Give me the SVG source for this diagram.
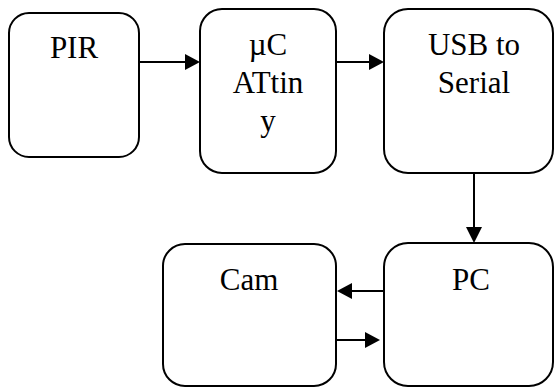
<svg xmlns="http://www.w3.org/2000/svg" width="554" height="387" viewBox="0 0 554 387">
<style>
.box{fill:#fff;stroke:#000;stroke-width:2}
.lbl{font-family:"Liberation Serif","Times New Roman",serif;font-size:31px;fill:#000;text-anchor:middle}
.con{stroke:#000;stroke-width:2;fill:none}
.head{fill:#000}
</style>
<g id="pir"><rect class="box" x="9" y="13" width="130" height="144" rx="20"/><text class="lbl" x="74" y="58">PIR</text></g>
<g id="uc"><rect class="box" x="200" y="9" width="136" height="164" rx="22"/><text class="lbl" x="268" y="55">µC</text><text class="lbl" x="268" y="93">ATtin</text><text class="lbl" x="268" y="131">y</text></g>
<g id="usb"><rect class="box" x="384" y="9" width="169" height="164" rx="24"/><text class="lbl" x="474" y="55">USB to</text><text class="lbl" x="474" y="93">Serial</text></g>
<g id="cam"><rect class="box" x="163" y="244" width="173" height="142" rx="22"/><text class="lbl" x="249" y="290">Cam</text></g>
<g id="pc"><rect class="box" x="384" y="243" width="169" height="143" rx="24"/><text class="lbl" x="471" y="290">PC</text></g>
<g id="connectors">
<line class="con" x1="139" y1="62" x2="186" y2="62"/><polygon class="head" points="200,62 185,54 185,70"/>
<line class="con" x1="336" y1="62" x2="370" y2="62"/><polygon class="head" points="384,62 369,54 369,70"/>
<line class="con" x1="474" y1="173" x2="474" y2="229"/><polygon class="head" points="474,243 466,227 482,227"/>
<line class="con" x1="384" y1="291" x2="351" y2="291"/><polygon class="head" points="337,291 352,283 352,299"/>
<line class="con" x1="336" y1="340" x2="366" y2="340"/><polygon class="head" points="380,340 365,332 365,348"/>
</g>
</svg>
